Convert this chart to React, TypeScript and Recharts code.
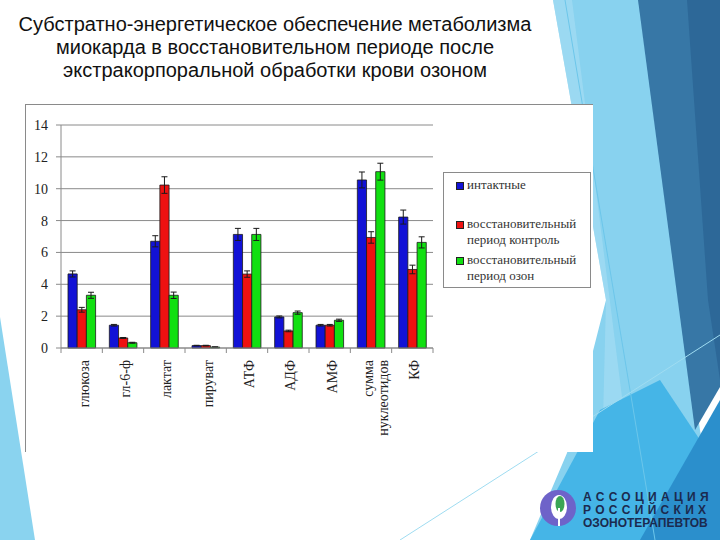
import React from "react";
import { Bar, BarChart, CartesianGrid, ErrorBar, XAxis, YAxis } from "recharts";

const CATEGORIES = ["глюкоза", "гл-6-ф", "лактат", "пируват", "АТФ", "АДФ", "АМФ", "сумма нуклеотидов", "КФ"];

const INTACT = [4.65, 1.43, 6.7, 0.15, 7.13, 1.95, 1.43, 10.55, 8.22];
const INTACT_ERR = [0.19, 0.05, 0.35, 0.02, 0.38, 0.06, 0.05, 0.5, 0.44];

const CONTROL = [2.4, 0.63, 10.23, 0.15, 4.64, 1.07, 1.43, 6.94, 4.93];
const CONTROL_ERR = [0.15, 0.03, 0.52, 0.02, 0.2, 0.05, 0.05, 0.36, 0.27];

const OZONE = [3.31, 0.33, 3.31, 0.06, 7.13, 2.22, 1.74, 11.07, 6.63];
const OZONE_ERR = [0.19, 0.03, 0.2, 0.01, 0.38, 0.1, 0.07, 0.53, 0.35];

const Y_TICKS = [0, 2, 4, 6, 8, 10, 12, 14];

const TITLE = [
  "Субстратно-энергетическое обеспечение метаболизма",
  "миокарда в восстановительном периоде после",
  "экстракорпоральной обработки крови озоном",
];

const SERIES = [
  { key: "intact", errKey: "intactErr", color: "#1212d6", label: ["интактные"] },
  { key: "control", errKey: "controlErr", color: "#ee1111", label: ["восстановительный", "период контроль"] },
  { key: "ozone", errKey: "ozoneErr", color: "#11e011", label: ["восстановительный", "период озон"] },
];

const data = CATEGORIES.map((name, i) => ({
  name,
  intact: INTACT[i],
  intactErr: INTACT_ERR[i],
  control: CONTROL[i],
  controlErr: CONTROL_ERR[i],
  ozone: OZONE[i],
  ozoneErr: OZONE_ERR[i],
}));

const SERIF = "'Liberation Serif', 'Times New Roman', serif";
const GRID = "#8a8a8a";

function CategoryTick(props: any) {
  const { x, y, payload, index, visibleTicksCount, width } = props;
  const half = payload.offset ?? width / (2 * (visibleTicksCount || CATEGORIES.length));
  const axisY = y - 12;
  const lines = String(payload.value).split(" ");
  const isLast = index === CATEGORIES.length - 1;
  return (
    <g>
      <line x1={x - half} y1={axisY} x2={x - half} y2={axisY + 5} stroke={GRID} />
      {isLast && <line x1={x + half} y1={axisY} x2={x + half} y2={axisY + 5} stroke={GRID} />}
      {lines.map((line, i) => {
        const lx = x + 2 + (i - (lines.length - 1) / 2) * 15 + (lines.length > 1 ? 3 : 0);
        return (
          <text
            key={i}
            x={lx}
            y={y}
            dy="0.35em"
            transform={`rotate(-90 ${lx} ${y})`}
            textAnchor="end"
            fontFamily={SERIF}
            fontSize={14}
            fill="#222"
          >
            {line}
          </text>
        );
      })}
    </g>
  );
}

function Backdrop() {
  return (
    <svg width={720} height={540} style={{ position: "absolute", left: 0, top: 0 }}>
      <polygon points="0,317 35,540 0,540" fill="#8ad3ef" />
      <polygon points="553,0 640,0 700,430 720,540 530,540 567,453 606,300" fill="#88d2ef" />
      <polygon points="553,0 572,0 640,540 600,540 606,300" fill="#a8def3" opacity={0.6} />
      <polygon points="638,0 720,0 720,387 695,430" fill="#3777a6" />
      <polygon points="687,0 720,0 720,380 708,300" fill="#2d6898" />
      <polygon points="530,540 600,410 660,380 720,470 720,540" fill="#45b5e7" />
      <polygon points="640,540 720,400 720,540" fill="#2b8fcc" />
      <line x1={565} y1={0} x2={655} y2={540} stroke="#6cc6ea" />
      <line x1={400} y1={540} x2={720} y2={335} stroke="#9fdcf1" />

      <circle cx={558} cy={508} r={18} fill="#6e63c9" />
      <ellipse cx={559} cy={507} rx={8} ry={12} fill="#ffffff" />
      <ellipse cx={560} cy={504} rx={4.5} ry={8} fill="#3aa655" />
      <line x1={559} y1={508} x2={559} y2={526} stroke="#ffffff" strokeWidth={2} />
      <g fontFamily="'Liberation Sans', Arial, sans-serif" fontWeight="bold" fontSize={12} fill="#1b2a4f">
        <text x={583} y={501} letterSpacing={4.3}>АССОЦИАЦИЯ</text>
        <text x={583} y={514} letterSpacing={4.3}>РОССИЙСКИХ</text>
        <text x={583} y={527}>ОЗОНОТЕРАПЕВТОВ</text>
      </g>
    </svg>
  );
}

function SeriesLegend() {
  const tops = [4, 43, 79];
  return (
    <div
      style={{
        position: "absolute",
        left: 443,
        top: 172,
        width: 148,
        height: 116,
        border: `1px solid ${GRID}`,
        boxSizing: "border-box",
        background: "#fff",
        fontFamily: SERIF,
        fontSize: 13,
        lineHeight: "16px",
        color: "#333",
      }}
    >
      {SERIES.map((s, i) => (
        <div key={s.key} style={{ position: "absolute", left: 12, top: tops[i] }}>
          <span
            style={{
              position: "absolute",
              left: 0,
              top: 5,
              width: 6,
              height: 6,
              background: s.color,
              border: "1px solid #222",
            }}
          />
          <div style={{ marginLeft: 11, whiteSpace: "nowrap" }}>
            {s.label.map((l) => (
              <div key={l}>{l}</div>
            ))}
          </div>
        </div>
      ))}
    </div>
  );
}

export default function App() {
  return (
    <div
      style={{
        position: "fixed",
        left: 0,
        top: 0,
        width: 720,
        height: 540,
        overflow: "hidden",
        background: "#fff",
      }}
    >
      <Backdrop />

      <div
        style={{
          position: "absolute",
          left: 0,
          top: 13,
          width: 550,
          textAlign: "center",
          fontFamily: "'Liberation Sans', Arial, sans-serif",
          fontSize: 20,
          lineHeight: "23px",
          color: "#111",
        }}
      >
        {TITLE.map((t) => (
          <div key={t}>{t}</div>
        ))}
      </div>

      <div
        style={{
          position: "absolute",
          left: 25,
          top: 104,
          width: 568,
          height: 348,
          background: "#fff",
          borderTop: `1px solid ${GRID}`,
          borderLeft: `1px solid ${GRID}`,
          boxSizing: "border-box",
        }}
      />

      <div style={{ position: "absolute", left: 25, top: 104 }}>
        <BarChart
          width={568}
          height={348}
          data={data}
          margin={{ top: 21, right: 160, bottom: 4, left: 10 }}
          barGap={0}
          barSize={9.2}
        >
          <CartesianGrid vertical={false} stroke={GRID} />
          <XAxis
            dataKey="name"
            height={100}
            interval={0}
            axisLine={{ stroke: GRID }}
            tickLine={false}
            tickSize={0}
            tickMargin={12}
            tick={<CategoryTick />}
          />
          <YAxis
            width={26}
            domain={[0, 14]}
            ticks={Y_TICKS}
            axisLine={{ stroke: GRID }}
            tickLine={{ stroke: GRID }}
            tickSize={5}
            tickMargin={8}
            tick={{ fontFamily: SERIF, fontSize: 14, fill: "#222" }}
          />
          <YAxis
            yAxisId="frame"
            orientation="right"
            width={0}
            domain={[0, 14]}
            tick={false}
            tickLine={false}
            axisLine={{ stroke: GRID }}
          />
          {SERIES.map((s) => (
            <Bar key={s.key} dataKey={s.key} fill={s.color} stroke="#1a1a1a" strokeWidth={0.8} isAnimationActive={false}>
              <ErrorBar dataKey={s.errKey} width={3} stroke="#1a1a1a" strokeWidth={1} />
            </Bar>
          ))}
        </BarChart>
      </div>

      <SeriesLegend />
    </div>
  );
}
